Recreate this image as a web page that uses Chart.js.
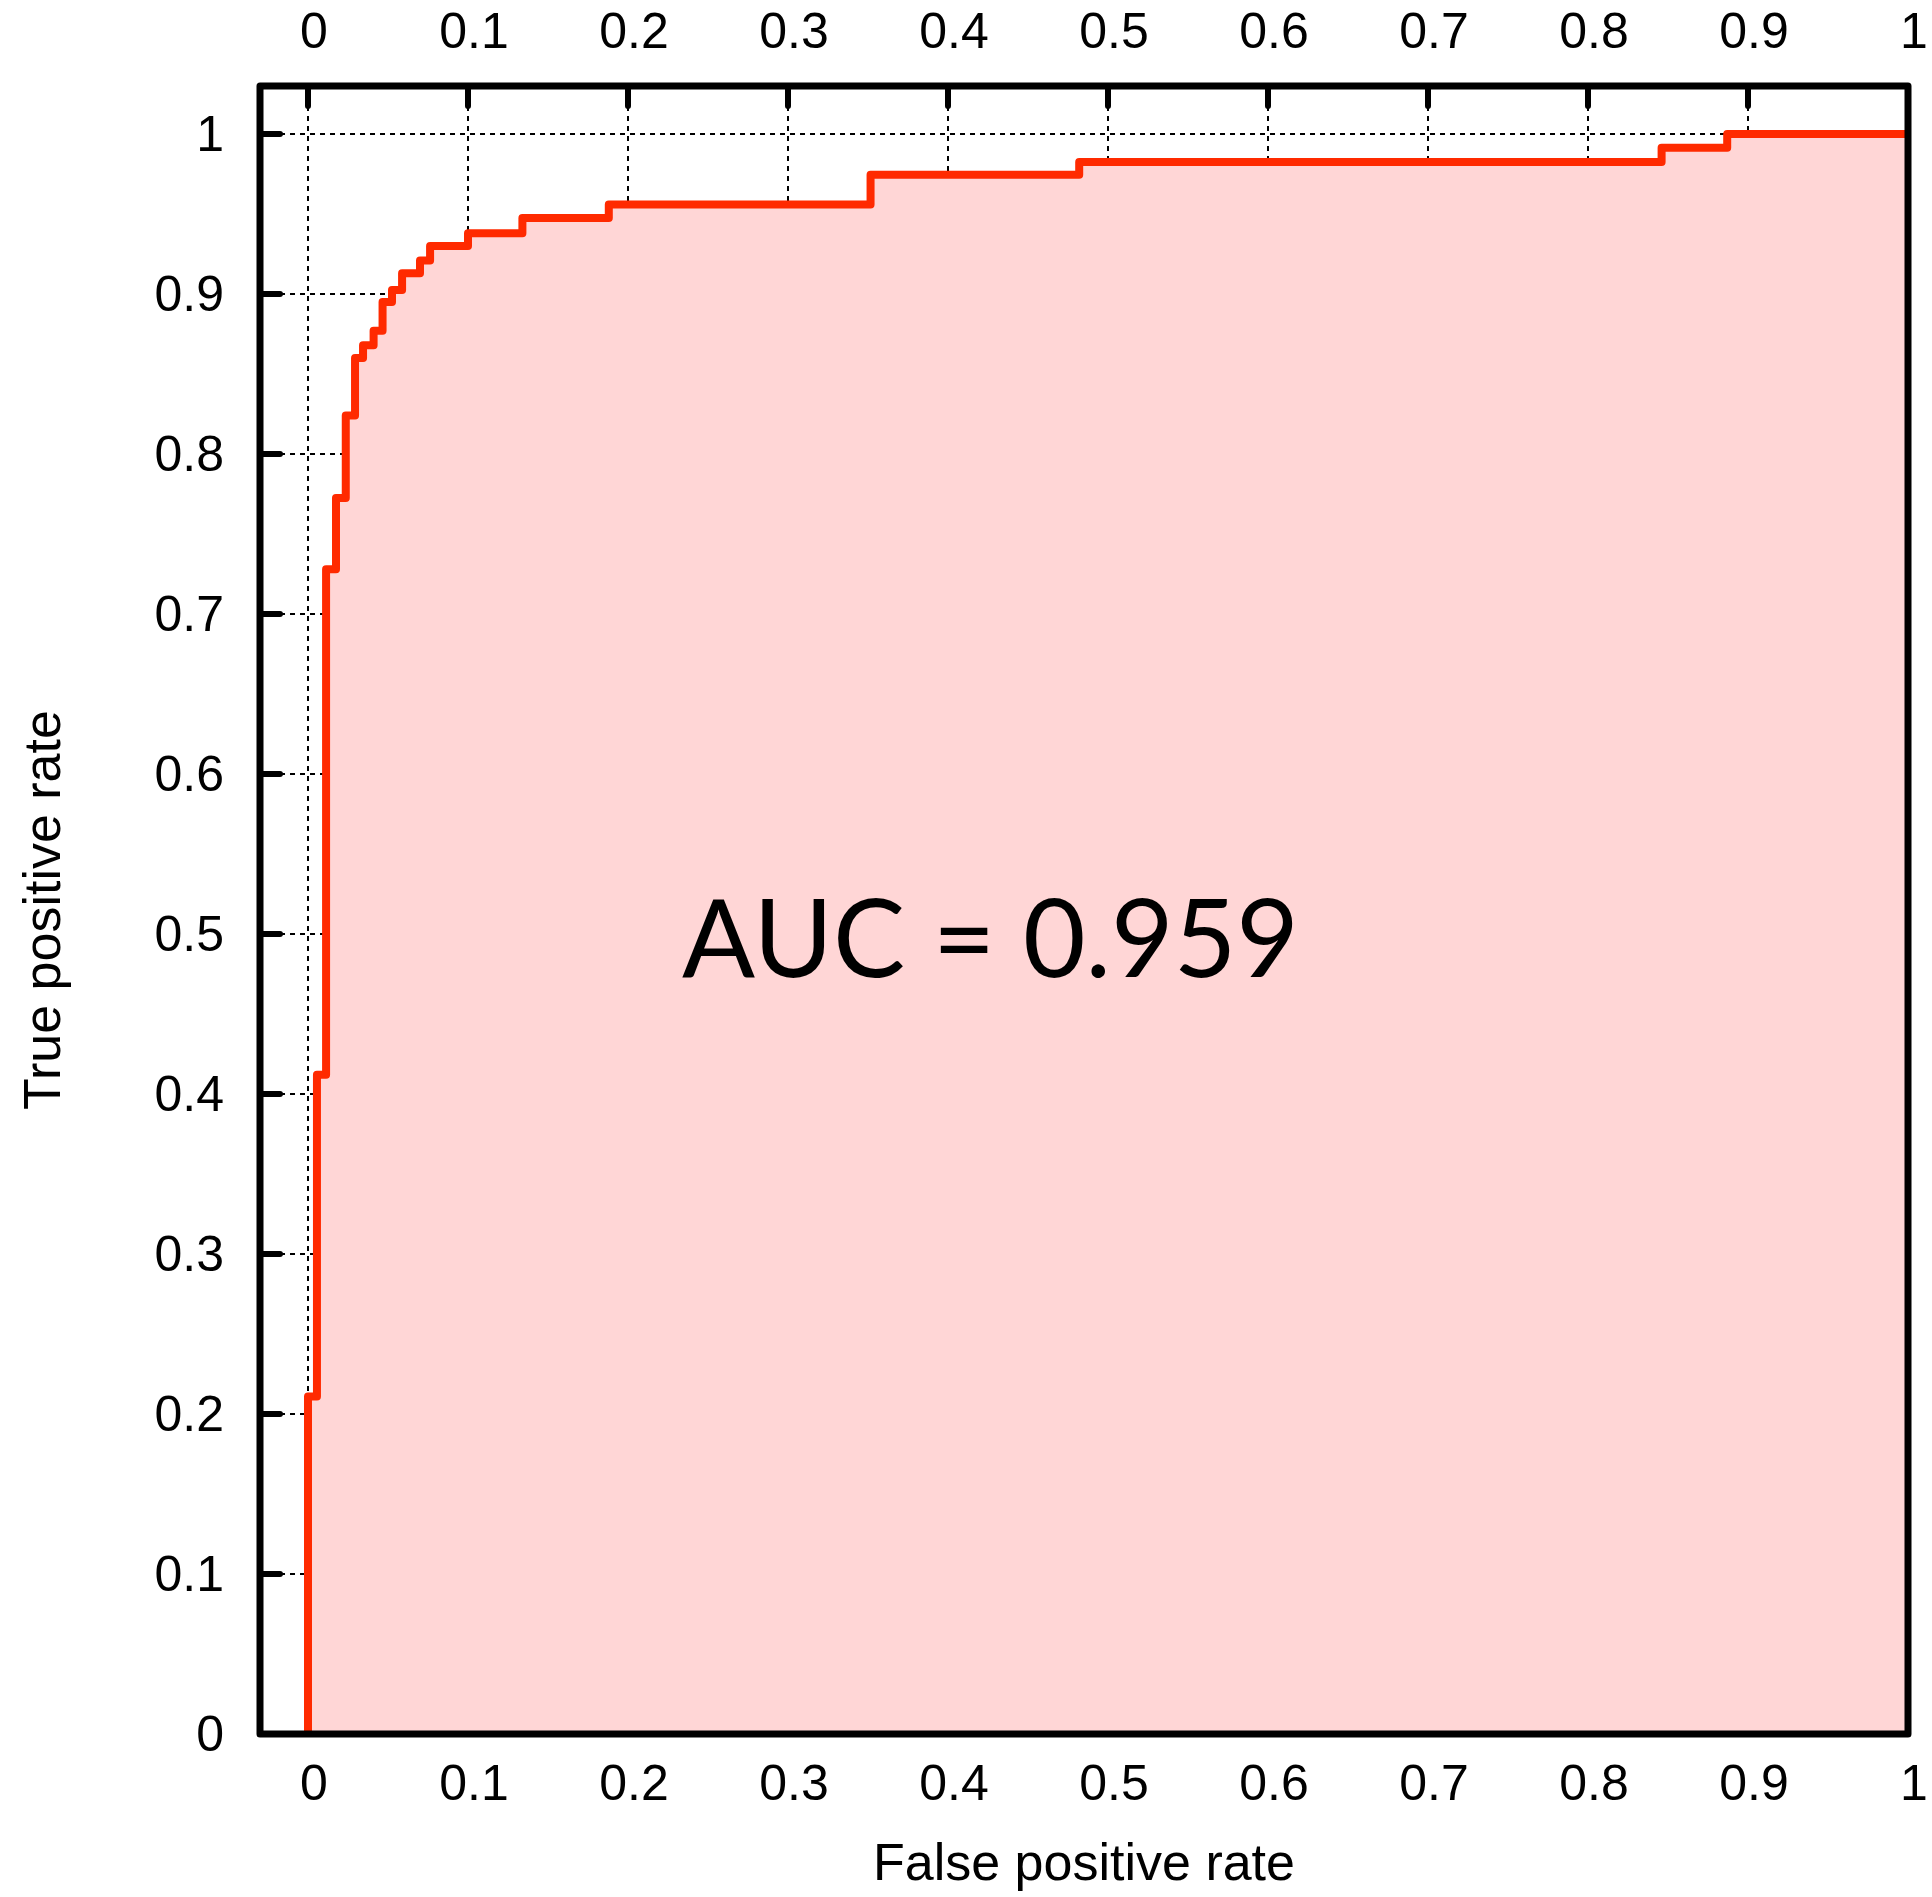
<!DOCTYPE html>
<html>
<head>
<meta charset="utf-8">
<title>ROC curve</title>
<script src="https://cdn.jsdelivr.net/npm/chart.js@4.4.1/dist/chart.umd.min.js"></script>
<style>
  html, body { margin: 0; padding: 0; background: #fff; }
  canvas { display: block; }
</style>
</head>
<body>
<canvas id="roc_chart" width="1932" height="1897"></canvas>
<script>
'use strict'

//Data ---------------------------------------------------------
// step corners of the ROC curve
const fprValues = [0, 0, 0.0056, 0.0113, 0.0175, 0.0236, 0.0294, 0.0344, 0.041, 0.0466, 0.0525,
  0.0588, 0.07, 0.0763, 0.1, 0.134, 0.188, 0.3516, 0.482, 0.846, 0.887, 1];
const tprValues = [0, 0.211, 0.412, 0.728, 0.7725, 0.824, 0.86, 0.868, 0.877, 0.895, 0.9025,
  0.913, 0.921, 0.93, 0.938, 0.9475, 0.956, 0.9745, 0.9825, 0.9914, 1, 1];
const tickValues = [0, 0.1, 0.2, 0.3, 0.4, 0.5, 0.6, 0.7, 0.8, 0.9, 1];
const tickLabels = ['0', '0.1', '0.2', '0.3', '0.4', '0.5', '0.6', '0.7', '0.8', '0.9', '1'];
const aucText = 'AUC = 0.959';
const aucPosition = [0.4266, 0.473];

//Style ---------------------------------------------------------
const tickFont = { family: 'Liberation Sans, Arial, sans-serif', size: 50 };
const titleFont = { family: 'Liberation Sans, Arial, sans-serif', size: 52 };
const lineRed = '#ff2a00';
const fillPink = '#ffd6d6';

//Helpers ---------------------------------------------------------
function useTickValues(scale) {
  scale.ticks = tickValues.map(v => ({ value: v }));
}

function tickText(value, index) {
  return tickLabels[index];
}

// fixed box size; no extra room asked for the end labels
function fixHeight(h) {
  return s => {
    s.height = h;
    s.paddingLeft = 0;
    s.paddingRight = 0;
  };
}

function xScale(position, extra) {
  return Object.assign({
    type: 'linear',
    position: position,
    min: -0.03,
    max: 1,
    afterBuildTicks: useTickValues,
    ticks: { callback: tickText, font: tickFont, color: '#000', padding: 22, labelOffset: 6, autoSkip: false, maxRotation: 0 },
    border: { display: false, dash: [5, 5] },
  }, extra);
}

// inward tick marks under the data, frame and label over it
const rocFrame = {
  id: 'rocFrame',
  beforeDatasetsDraw(chart) {
    const { ctx, chartArea: area, scales: { x, y } } = chart;
    ctx.save();
    ctx.strokeStyle = '#000';
    ctx.lineWidth = 6;
    ctx.lineCap = 'round';
    ctx.beginPath();
    tickValues.forEach(v => {
      const px = x.getPixelForValue(v);
      const py = y.getPixelForValue(v);
      ctx.moveTo(px, area.top); ctx.lineTo(px, area.top + 20);
      ctx.moveTo(px, area.bottom); ctx.lineTo(px, area.bottom - 20);
      ctx.moveTo(area.left, py); ctx.lineTo(area.left + 20, py);
      ctx.moveTo(area.right, py); ctx.lineTo(area.right - 20, py);
    });
    ctx.stroke();
    ctx.restore();
  },
  afterDatasetsDraw(chart) {
    const { ctx, chartArea: area, scales: { x, y } } = chart;
    ctx.save();
    ctx.strokeStyle = '#000';
    ctx.lineWidth = 7;
    ctx.lineJoin = 'round';
    ctx.strokeRect(area.left, area.top, area.right - area.left, area.bottom - area.top);
    ctx.fillStyle = '#000';
    ctx.font = '108px Lato, sans-serif';
    ctx.textAlign = 'center';
    ctx.textBaseline = 'alphabetic';
    ctx.fillText(aucText, x.getPixelForValue(aucPosition[0]), y.getPixelForValue(aucPosition[1]));
    ctx.restore();
  }
};

//Chart ---------------------------------------------------------
const rocCtx = document.getElementById('roc_chart').getContext('2d');

const rocChart = new Chart(rocCtx, {
  type: 'line',
  data: {
    datasets: [{
      label: 'ROC',
      data: fprValues.map((f, i) => ({ x: f, y: tprValues[i] })),
      stepped: 'before',
      borderColor: lineRed,
      borderWidth: 8,
      borderJoinStyle: 'round',
      backgroundColor: fillPink,
      fill: 'origin',
      pointRadius: 0,
      tension: 0,
    }]
  },
  options: {
    responsive: false,
    animation: false,
    devicePixelRatio: 1,
    layout: { padding: { top: 0, left: 0, right: 24, bottom: 0 } },
    plugins: { legend: { display: false }, tooltip: { enabled: false } },
    scales: {
      x: xScale('bottom', {
        grid: { color: '#000', lineWidth: 2, drawTicks: false },
        title: { display: true, text: 'False positive rate', font: titleFont, color: '#000', padding: { top: 0, bottom: 0 } },
        afterFit: fixHeight(163),
      }),
      x2: xScale('top', {
        grid: { display: false, drawTicks: false },
        afterFit: fixHeight(86),
      }),
      y: {
        type: 'linear',
        position: 'left',
        min: 0,
        max: 1.03,
        afterBuildTicks: useTickValues,
        ticks: { callback: tickText, font: tickFont, color: '#000', padding: 36, labelOffset: 3, autoSkip: false },
        grid: { color: '#000', lineWidth: 2, drawTicks: false },
        border: { display: false, dash: [5, 5] },
        title: { display: true, text: 'True positive rate', font: titleFont, color: '#000', padding: { top: 14, bottom: 0 } },
        afterFit: s => { s.width = 260; },
      }
    }
  },
  plugins: [rocFrame]
});
</script>
</body>
</html>
